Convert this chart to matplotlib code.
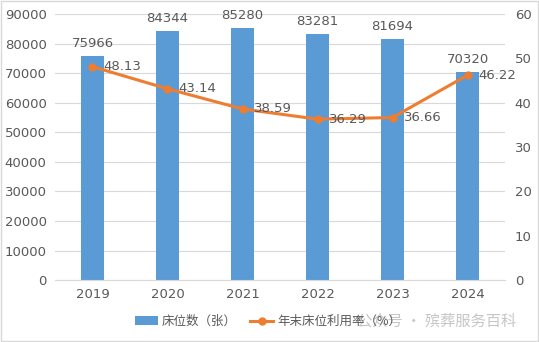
import matplotlib.pyplot as plt

plt.rcParams['font.family'] = ['DejaVu Sans', 'Noto Sans CJK SC']

years = ['2019', '2020', '2021', '2022', '2023', '2024']
beds = [75966, 84344, 85280, 83281, 81694, 70320]
rates = [48.13, 43.14, 38.59, 36.29, 36.66, 46.22]

textColor = '#595959'
barColor = '#5B9BD5'
lineColor = '#ED7D31'

fig = plt.figure(figsize=(5.39, 3.42), dpi=100)
ax = fig.add_axes([0.102, 0.181, 0.835, 0.778])
ax2 = ax.twinx()

x = range(len(years))
bars = ax.bar(x, beds, width=0.31, color=barColor, zorder=2)
for xi, v in zip(x, beds):
    ax.text(xi, v + 2000, str(v), ha='center', va='bottom', fontsize=9.5, color=textColor)

ax.set_ylim(0, 90000)
ax.set_yticks(range(0, 90001, 10000))
ax.set_xlim(-0.5, len(years) - 0.5)
ax.set_xticks(list(x))
ax.set_xticklabels(years)
ax.grid(axis='y', color='#D9D9D9', linewidth=0.8, zorder=0)
ax.set_axisbelow(True)

line, = ax2.plot(x, rates, color=lineColor, linewidth=2.2, marker='o', markersize=5, zorder=3)
for xi, v in zip(x, rates):
    ax2.text(xi + 0.15, v, '%.2f' % v, ha='left', va='center', fontsize=9.5, color=textColor)
ax2.set_ylim(0, 60)
ax2.set_yticks(range(0, 61, 10))

for a in (ax, ax2):
    for s in a.spines.values():
        s.set_visible(False)
    a.tick_params(length=0, labelsize=9.5, labelcolor=textColor)
ax.spines['bottom'].set_visible(True)
ax.spines['bottom'].set_color('#D9D9D9')
ax.tick_params(axis='x', pad=6)
ax.tick_params(axis='y', pad=6)
ax2.tick_params(axis='y', pad=7)

fig.legend([bars, line], ['床位数（张）', '年末床位利用率（%）'],
           loc='center', bbox_to_anchor=(0.497, 0.06), ncol=2, frameon=False,
           labelcolor=textColor, handlelength=1.9, handletextpad=0.3, columnspacing=1.0,
           prop={'family': ['Noto Sans CJK SC'], 'size': 9})

# faint watermark at the bottom right, as in the source image
fig.text(0.81, 0.06, '公众号 · 殡葬服务百科', ha='center', va='center', fontsize=11,
         color='#a0a0a0', alpha=0.6, family=['Noto Sans CJK SC'])

fig.patches.append(plt.Rectangle((0.002, 0.003), 0.996, 0.994, transform=fig.transFigure,
                                 fill=False, edgecolor='#D9D9D9', linewidth=1))

fig.savefig('out.png', dpi=100)
